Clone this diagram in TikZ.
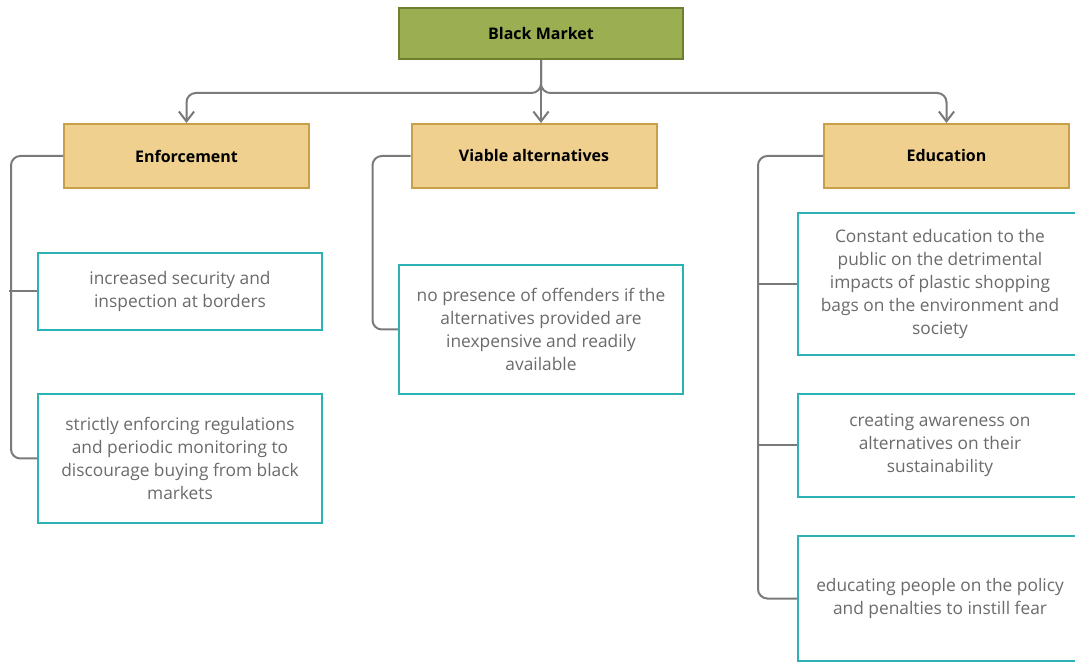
\documentclass[tikz,border=0pt]{standalone}
\usepackage{fontspec}
\setmainfont{Open Sans}
\usepackage{tikz}
\usetikzlibrary{arrows.meta,positioning}
\definecolor{olive}{HTML}{9BAF52}
\definecolor{olivedark}{HTML}{6E7F2F}
\definecolor{sand}{HTML}{EFD08E}
\definecolor{sanddark}{HTML}{C9A04A}
\definecolor{teal}{HTML}{2BB3B3}
\definecolor{wire}{HTML}{7A7A7A}
\definecolor{leaftext}{HTML}{6B6B6B}

\begin{document}
\begin{tikzpicture}[
  x=0.75pt,y=-0.75pt,
  font=\fontsize{13}{17.25}\selectfont,
  rootbox/.style={draw=olivedark,fill=olive,line width=1.5pt,minimum width=213pt,minimum height=38.25pt,align=center,font=\fontsize{12}{14}\selectfont\bfseries},
  topic/.style={draw=sanddark,fill=sand,line width=1.5pt,minimum width=183.75pt,minimum height=48pt,align=center,font=\fontsize{12}{14}\selectfont\bfseries},
  leaf/.style={draw=teal,fill=white,line width=1.5pt,minimum width=213pt,align=center,text=leaftext,inner sep=0pt},
  conn/.style={draw=wire,line width=1.5pt,rounded corners=7pt},
  arr/.style={conn,-{Straight Barb[length=2.6mm,width=4mm]}}
]
\useasboundingbox[fill=white] (0,0) rectangle (1075,666);

% root and topics
\node[rootbox] (bm) at (541,33.5) {Black Market};
\node[topic] (enf) at (186.5,156) {Enforcement};
\node[topic] (via) at (534,156) {Viable alternatives};
\node[topic] (edu) at (946.5,156) {Education};
\draw[arr] (bm.south) -- ++(0,33) -| (enf.north);
\draw[arr] (bm.south) -- (bm.south |- via.north);
\draw[arr] (bm.south) -- ++(0,33) -| (edu.north);

% Enforcement branch
\node[leaf,minimum height=57.75pt] (sec) at (180,291.5) {increased security and\\inspection at borders};
\node[leaf,minimum height=96.75pt] (reg) at (180,458.5) {strictly enforcing regulations\\and periodic monitoring to\\discourage buying from black\\markets};
\draw[conn] (enf.west) -- ++(-52,0) |- (reg.west);
\draw[conn] (sec.west) -- ++(-28,0);

% Viable alternatives branch
\node[leaf,minimum height=96.75pt] (off) at (541,329.5) {no presence of offenders if the\\alternatives provided are\\inexpensive and readily\\available};
\draw[conn] (via.west) -- ++(-38,0) |- (off.west);

% Education branch
\node[leaf,minimum height=106.5pt] (pub) at (940,284) {Constant education to the\\public on the detrimental\\impacts of plastic shopping\\bags on the environment and\\society};
\node[leaf,minimum height=77.25pt] (awa) at (940,445.5) {creating awareness on\\alternatives on their\\sustainability};
\node[leaf,minimum height=93.75pt] (pen) at (940,598.5) {educating people on the policy\\and penalties to instill fear};
\draw[conn] (edu.west) -- ++(-65,0) |- (pen.west);
\draw[conn] (pub.west) -- ++(-39,0);
\draw[conn] (awa.west) -- ++(-39,0);
\end{tikzpicture}
\end{document}
